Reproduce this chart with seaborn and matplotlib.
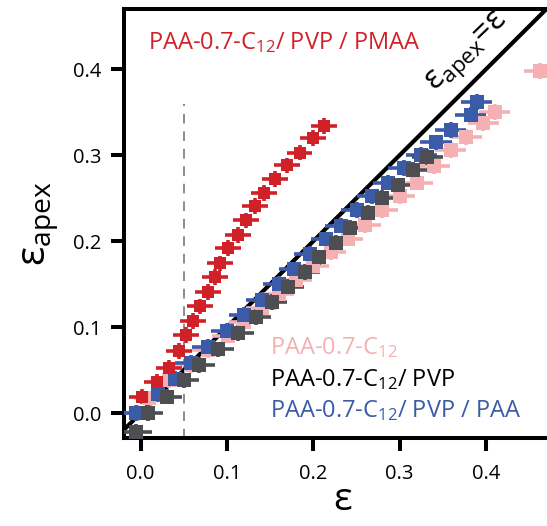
import matplotlib
matplotlib.use("Agg")
import matplotlib.pyplot as plt
import seaborn as sns
import numpy as np
import pandas as pd

# strain data
red_x = [0.001, 0.019, 0.033, 0.044, 0.053, 0.061, 0.069, 0.078, 0.086, 0.092,
         0.101, 0.113, 0.122, 0.132, 0.143, 0.156, 0.169, 0.184, 0.200, 0.212]
red_y = [0.019, 0.036, 0.053, 0.072, 0.091, 0.107, 0.124, 0.141, 0.158, 0.174,
         0.192, 0.207, 0.224, 0.241, 0.256, 0.272, 0.288, 0.303, 0.320, 0.334]

pink_x = [-0.003, 0.010, 0.033, 0.058, 0.078, 0.101, 0.120, 0.140, 0.160, 0.180, 0.200, 0.220,
          0.240, 0.260, 0.280, 0.300, 0.320, 0.340, 0.359, 0.377, 0.397, 0.410, 0.462]
pink_y = [0.000, 0.017, 0.038, 0.056, 0.073, 0.090, 0.106, 0.122, 0.138, 0.155, 0.171, 0.187,
          0.203, 0.219, 0.236, 0.252, 0.268, 0.287, 0.306, 0.321, 0.337, 0.350, 0.398]

gray_x = [-0.005, 0.008, 0.030, 0.050, 0.068, 0.090, 0.113, 0.133, 0.152, 0.171, 0.190,
          0.207, 0.226, 0.243, 0.263, 0.279, 0.298, 0.315, 0.332]
gray_y = [-0.022, 0.000, 0.019, 0.038, 0.056, 0.074, 0.093, 0.112, 0.129, 0.147, 0.164,
          0.181, 0.198, 0.215, 0.233, 0.250, 0.265, 0.283, 0.298]

blue_x = [-0.005, 0.020, 0.040, 0.058, 0.078, 0.100, 0.120, 0.140, 0.160, 0.178, 0.196,
          0.215, 0.232, 0.250, 0.268, 0.287, 0.305, 0.325, 0.342, 0.359, 0.382, 0.389]
blue_y = [0.000, 0.022, 0.040, 0.058, 0.077, 0.096, 0.114, 0.132, 0.150, 0.167, 0.185,
          0.202, 0.218, 0.236, 0.252, 0.268, 0.285, 0.300, 0.315, 0.329, 0.347, 0.362]

x_ticks = [0.0, 0.1, 0.2, 0.3, 0.4]
y_ticks = [0.0, 0.1, 0.2, 0.3, 0.4]

RED = '#d12128'
PINK = '#f5b0b4'
GRAY = '#4d4e52'
BLUE = '#3a5ba8'

sns.set_style("white")
plt.rcParams['font.family'] = ['Open Sans', 'DejaVu Sans']
plt.rcParams['mathtext.fontset'] = 'custom'
plt.rcParams['mathtext.rm'] = 'Open Sans'
plt.rcParams['mathtext.it'] = 'Open Sans'
plt.rcParams['text.color'] = 'black'
plt.rcParams['axes.labelcolor'] = 'black'
plt.rcParams['xtick.color'] = 'black'
plt.rcParams['ytick.color'] = 'black'

fig = plt.figure(figsize=(5.47, 5.26), dpi=100)
ax = fig.add_axes([0.2267, 0.1673, 0.80, 0.8156])

series = [
    (pink_x, pink_y, PINK, 10.5, 0.018),
    (blue_x, blue_y, BLUE, 10.5, 0.018),
    (gray_x, gray_y, GRAY, 10.5, 0.018),
    (red_x, red_y, RED, 9, 0.015),
]
for xs, ys, col, ms, xe in series:
    ax.errorbar(xs, ys, xerr=xe, yerr=0.009, fmt='none', ecolor=col,
                elinewidth=2.6, capsize=0, zorder=3)
    df = pd.DataFrame({'x': xs, 'y': ys})
    sns.scatterplot(data=df, x='x', y='y', ax=ax, marker='s', s=ms ** 2,
                    color=col, edgecolor=col, linewidth=0, zorder=4)

# y = x reference and dashed marker line
ax.plot([-0.05, 0.6], [-0.05, 0.6], color='black', lw=3, zorder=2)
ax.plot([0.05, 0.05], [-0.05, 0.36], color='#8c8c90', lw=1.4,
        ls=(0, (5, 4)), zorder=1)

ax.set_xlim(-0.0193, 0.4875)
ax.set_ylim(-0.029, 0.470)
ax.set_xticks(x_ticks)
ax.set_yticks(y_ticks)
ax.set_xticklabels([f'{t:.1f}' for t in x_ticks], fontsize=14.5)
ax.set_yticklabels([f'{t:.1f}' for t in y_ticks], fontsize=14.5)
ax.tick_params(bottom=True, left=True, direction='out', length=9.5,
               width=2.9, color='black')
ax.tick_params(axis='x', pad=9)
ax.tick_params(axis='y', pad=7)

for side in ['left', 'bottom', 'top']:
    ax.spines[side].set_linewidth(2.9)
    ax.spines[side].set_color('black')
ax.spines['right'].set_visible(False)

ax.set_xlabel('ε', fontsize=28, labelpad=-2)
ax.set_ylabel(r'ε$_{\mathrm{apex}}$', fontsize=29, labelpad=8)

ax.text(0.008, 0.431, r'PAA-0.7-C$_{\mathrm{12}}$/ PVP / PMAA', color=RED,
        fontsize=17, va='center', ha='left')
ax.text(0.150, 0.0756, r'PAA-0.7-C$_{\mathrm{12}}$', color=PINK,
        fontsize=17, va='center', ha='left')
ax.text(0.150, 0.0384, r'PAA-0.7-C$_{\mathrm{12}}$/ PVP', color='black',
        fontsize=17, va='center', ha='left')
ax.text(0.150, 0.0023, r'PAA-0.7-C$_{\mathrm{12}}$/ PVP / PAA', color=BLUE,
        fontsize=17, va='center', ha='left')
ax.text(0.379, 0.419, r'ε$_{\mathrm{apex}}$=ε', fontsize=23, rotation=44,
        rotation_mode='anchor', va='center', ha='center', color='black')

fig.savefig('out.png', dpi=100)
